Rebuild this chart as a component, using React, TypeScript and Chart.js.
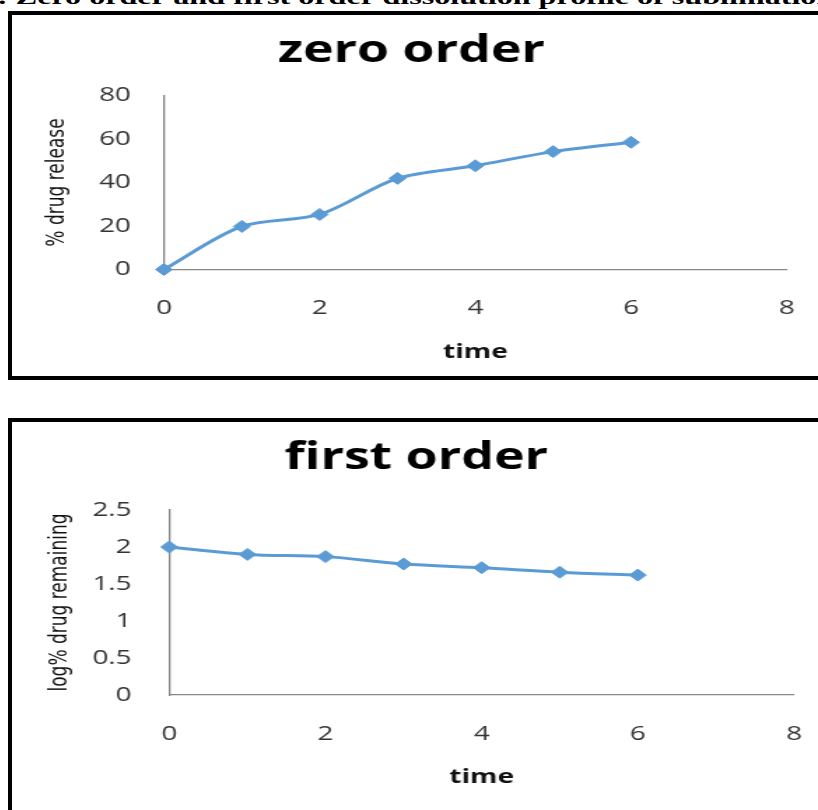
import React, { useEffect, useRef } from "react";
import { Chart, registerables } from "chart.js";

Chart.register(...registerables);

// ---- data ----
const timePoints = [0, 1, 2, 3, 4, 5, 6];
const zeroOrderRelease = [0, 19.8, 25.3, 41.9, 47.7, 54.2, 58.5];
const firstOrderLogRemaining = [2.0, 1.9, 1.87, 1.77, 1.72, 1.66, 1.62];
const timeTicks = [0, 2, 4, 6, 8];
const zeroOrderTicks = [0, 20, 40, 60, 80];
const firstOrderTicks = [0, 0.5, 1, 1.5, 2, 2.5];

const CAPTION = ": Zero order and first order dissolution profile of sublimation";

// ---- look ----
const STRETCH = 1.4; // horizontal stretch applied to the drawn charts
const CANVAS_W = 576; // drawing width; shown at CANVAS_W * STRETCH
const LINE_BLUE = "#5B9BD5";
const AXIS_GREY = "#868686";
const TICK_FONT = { family: "'Open Sans', sans-serif", size: 20 };
const TITLE_FONT = { family: "'Open Sans', sans-serif", size: 37, weight: "bold" as const };
const X_TITLE_FONT = { family: "'Open Sans', sans-serif", size: 20, weight: "bold" as const };
const Y_TITLE_FONT = { family: "'DejaVu Sans', sans-serif", size: 17 };

type PanelSpec = {
  title: string;
  yTitle: string;
  values: number[];
  yTicks: number[];
  height: number;
  padLeft: number;
  padRight: number;
  yAxisWidth: number;
  yTickPad: number;
  yTitlePad: number;
  titlePadTop: number;
  titlePadBottom: number;
  xAxisHeight: number;
  xTickPad: number;
  xTitlePad: number;
};

const zeroOrderPanel: PanelSpec = {
  title: "zero order",
  yTitle: "% drug release",
  values: zeroOrderRelease,
  yTicks: zeroOrderTicks,
  height: 361,
  padLeft: 17.2,
  padRight: 22.4,
  yAxisWidth: 91.4,
  yTickPad: 23.6,
  yTitlePad: 5.5,
  titlePadTop: 14.7,
  titlePadBottom: 21.4,
  xAxisHeight: 106.5,
  xTickPad: 27,
  xTitlePad: 11.8,
};

const firstOrderPanel: PanelSpec = {
  title: "first order",
  yTitle: "log% drug remaining",
  values: firstOrderLogRemaining,
  yTicks: firstOrderTicks,
  height: 388,
  padLeft: 19,
  padRight: 17.1,
  yAxisWidth: 93.4,
  yTickPad: 26.9,
  yTitlePad: 5.8,
  titlePadTop: 14.4,
  titlePadBottom: 29.2,
  xAxisHeight: 115,
  xTickPad: 27,
  xTitlePad: 20.8,
};

function buildConfig(p: PanelSpec): any {
  const yMax = p.yTicks[p.yTicks.length - 1];
  const xMax = timeTicks[timeTicks.length - 1];
  return {
    type: "line",
    data: {
      datasets: [
        {
          data: timePoints.map((t, i) => ({ x: t, y: p.values[i] })),
          borderColor: LINE_BLUE,
          backgroundColor: LINE_BLUE,
          borderWidth: 3,
          pointStyle: "rectRot",
          pointRadius: 6,
          pointBorderWidth: 1,
          pointBorderColor: LINE_BLUE,
          pointBackgroundColor: LINE_BLUE,
          tension: 0.3,
          fill: false,
          clip: false,
        },
      ],
    },
    options: {
      animation: false,
      responsive: false,
      events: [],
      layout: { padding: { left: p.padLeft, right: p.padRight, top: 0, bottom: 0 } },
      plugins: {
        legend: { display: false },
        tooltip: { enabled: false },
        title: {
          display: true,
          text: p.title,
          color: "#000",
          font: TITLE_FONT,
          padding: { top: p.titlePadTop, bottom: p.titlePadBottom },
        },
      },
      scales: {
        x: {
          type: "linear",
          min: 0,
          max: xMax,
          grid: { display: false, drawTicks: false },
          border: { display: true, color: AXIS_GREY, width: 1.3 },
          afterBuildTicks: (s: any) => {
            s.ticks = timeTicks.map((v) => ({ value: v }));
          },
          afterFit: (s: any) => {
            s.height = p.xAxisHeight;
            // the outer labels fit inside the layout padding already
            s.paddingLeft = 0;
            s.paddingRight = 0;
          },
          ticks: {
            color: "#333",
            font: TICK_FONT,
            padding: p.xTickPad,
            maxRotation: 0,
            autoSkip: false,
            callback: (v: number) => String(v),
          },
          title: {
            display: true,
            text: "time",
            color: "#111",
            font: X_TITLE_FONT,
            padding: { top: 0, bottom: p.xTitlePad },
          },
        },
        y: {
          type: "linear",
          min: 0,
          max: yMax,
          grid: { display: false, drawTicks: false },
          border: { display: true, color: AXIS_GREY, width: 1.3 },
          afterBuildTicks: (s: any) => {
            s.ticks = p.yTicks.map((v) => ({ value: v }));
          },
          afterFit: (s: any) => {
            s.width = p.yAxisWidth;
          },
          ticks: {
            color: "#333",
            font: TICK_FONT,
            padding: p.yTickPad,
            autoSkip: false,
            callback: (v: number) => String(v),
          },
          title: {
            display: true,
            text: p.yTitle,
            color: "#111",
            font: Y_TITLE_FONT,
            padding: { top: p.yTitlePad, bottom: 0 },
          },
        },
      },
    },
  };
}

function ChartPanel({ spec, top }: { spec: PanelSpec; top: number }) {
  const ref = useRef<HTMLCanvasElement>(null);
  useEffect(() => {
    const chart = new Chart(ref.current as HTMLCanvasElement, buildConfig(spec));
    return () => chart.destroy();
  }, [spec]);
  return (
    <canvas
      ref={ref}
      width={CANVAS_W}
      height={spec.height}
      style={{
        position: "absolute",
        left: 12,
        top,
        width: CANVAS_W * STRETCH,
        height: spec.height,
        display: "block",
      }}
    />
  );
}

export default function App() {
  return (
    <div
      style={{
        position: "absolute",
        left: 0,
        top: 0,
        width: 818,
        height: 810,
        overflow: "hidden",
        background: "#fff",
      }}
    >
      <div
        style={{
          position: "absolute",
          left: -3,
          top: -14.5,
          whiteSpace: "nowrap",
          fontFamily: "'Liberation Serif', 'Times New Roman', serif",
          fontWeight: "bold",
          fontSize: 22,
          lineHeight: 1,
          color: "#000",
          transform: "scaleX(1.46)",
          transformOrigin: "0 0",
        }}
      >
        {CAPTION}
      </div>
      <div
        style={{
          position: "absolute",
          left: 8,
          top: 11,
          width: 900,
          height: 369,
          border: "4px solid #000",
          boxSizing: "border-box",
        }}
      />
      <div
        style={{
          position: "absolute",
          left: 8,
          top: 418,
          width: 900,
          height: 500,
          border: "4px solid #000",
          boxSizing: "border-box",
        }}
      />
      <ChartPanel spec={zeroOrderPanel} top={15} />
      <ChartPanel spec={firstOrderPanel} top={422} />
    </div>
  );
}
